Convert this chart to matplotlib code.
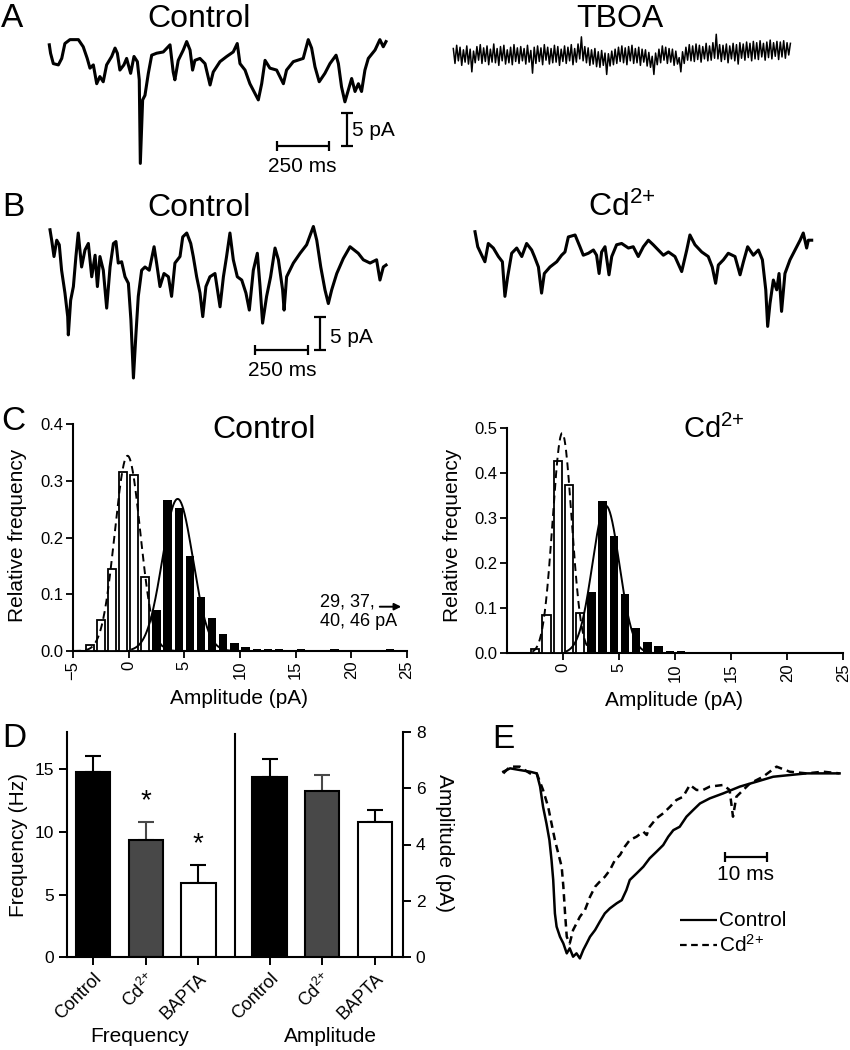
import numpy as np
import matplotlib
matplotlib.use('Agg')
import matplotlib.pyplot as plt

plt.rcParams['font.family'] = ['Liberation Sans', 'DejaVu Sans']
plt.rcParams['mathtext.default'] = 'regular'

CD = 'Cd$^{2{+}}$'

# ---------------- data ----------------
# A: example traces (time in ms, current in pA)
a_ctrl_t = [0, 6, 19, 43, 59, 74, 98, 138, 161, 180, 193, 209, 225, 240, 256, 272, 296, 312, 323, 335,
            354, 367, 386, 402, 418, 427, 432, 443, 454, 470, 486, 509, 541, 573, 588, 596, 612, 636, 652,
            668, 680, 691, 715, 739, 763, 778, 810, 842, 873, 892, 905, 929, 952, 976, 992, 1008, 1024,
            1047, 1079, 1111, 1126, 1158, 1205, 1229, 1245, 1261, 1281, 1308, 1332, 1361, 1372, 1387,
            1403, 1419, 1435, 1451, 1467, 1482, 1498, 1514, 1546, 1569, 1585, 1598]
a_ctrl_i = [0.8, -0.5, -2.1, -2.3, -1.3, 1.0, 1.6, 1.6, 0.5, -1.3, -2.8, -2.3, -5.2, -4.1, -4.9, -2.3,
            -1.0, 0.3, -0.5, -3.1, -2.3, -1.3, -3.6, -1.0, -1.8, -4.6, -17.5, -7.7, -7.0, -3.6, -0.8, -0.5,
            -0.3, 0.8, -3.4, -4.6, -1.6, 0.0, 1.3, 0.0, -3.1, -1.6, -1.3, -2.1, -5.4, -3.4, -1.8, -1.0,
            -0.3, 1.0, -2.1, -3.1, -5.2, -6.7, -7.7, -5.2, -1.6, -2.8, -3.1, -5.2, -3.1, -1.8, -1.3, 1.6,
            0.3, -2.6, -4.9, -3.6, -2.1, -0.8, -2.1, -5.7, -8.0, -6.2, -4.4, -6.4, -5.2, -6.4, -3.1, -1.3,
            0.0, 1.6, 0.5, 1.3]

a_tboa_dt = 8
a_tboa_i = [1.0, -1.3, 1.5, -0.9, 1.2, -1.6, 0.8, -1.1, 1.4, -1.4, 0.9, -2.6, 0.6, -1.2, 1.3, -0.8, 1.6, -1.3, 1.1, -1.0,
            1.4, -1.5, 0.9, -1.1, 1.7, -1.2, 1.0, -1.6, 1.3, -0.9, 1.5, -1.4, 0.8, -1.2, 1.2, -1.5, 1.6, -1.0, 1.1, -1.3,
            1.3, -0.9, 1.0, -1.4, 1.5, -1.1, 0.7, -2.8, 1.2, -1.3, 1.4, -1.0, 1.1, -1.5, 1.6, -0.8, 1.2, -1.4, 1.0, -1.2,
            1.5, -1.1, 1.3, -1.6, 0.9, -1.0, 1.4, -1.3, 1.2, -0.9, 1.6, -1.5, 1.0, -1.1, 1.7, -0.6, 2.8, -0.9, 1.3, -1.2,
            1.1, -1.6, 0.8, -1.4, 1.0, -1.8, 0.5, -1.9, 0.7, -1.6, 0.3, -3.0, 0.2, -1.7, 0.6, -1.5, 0.9, -1.3, 1.2, -1.0,
            1.4, -1.2, 1.1, -1.5, 1.3, -0.9, 1.5, -1.3, 1.0, -1.2, 1.2, -1.6, 0.9, -1.1, 0.8, -1.7, 0.4, -1.9, -0.2, -3.0,
            0.3, -1.5, 0.9, -1.2, 1.4, -0.8, 1.2, -1.3, 1.0, -1.1, 0.9, -1.6, 0.6, -1.4, -0.4, -2.6, 0.5, -1.3, 1.2, -0.8,
            1.6, -0.9, 1.4, -1.0, 1.7, -0.7, 1.5, -1.1, 1.3, -0.6, 1.8, -0.9, 1.4, -0.8, 1.9, -0.5, 3.2, -0.6, 1.6, -1.0,
            1.5, -0.7, 1.7, -1.2, 1.4, -0.6, 1.8, -0.9, 1.6, -1.4, 1.9, -0.5, 1.7, -0.8, 2.0, -0.4, 1.8, -0.9, 2.1, -0.6,
            1.9, -0.7, 2.2, -0.3, 1.8, -0.8, 2.0, -0.4, 2.3, -0.6, 1.9, -0.2, 2.1, -0.7, 2.0, -0.3, 2.2, -0.5, 1.9, 0.0, 1.8]

# B: example traces
b_ctrl_t = [0, 8, 19, 32, 44, 55, 71, 84, 87, 98, 111, 123, 134, 150, 166, 182, 198, 214, 225, 237, 253,
            269, 285, 301, 313, 324, 340, 356, 372, 384, 396, 408, 419, 435, 451, 471, 494, 506, 522, 541,
            562, 577, 593, 617, 630, 649, 668, 680, 696, 712, 725, 740, 759, 783, 807, 823, 838, 854, 870,
            889, 910, 930, 946, 965, 984, 997, 1009, 1028, 1047, 1068, 1084, 1104, 1111, 1123, 1155, 1187,
            1218, 1250, 1266, 1285, 1305, 1321, 1337, 1361, 1392, 1424, 1463, 1487, 1519, 1550, 1566,
            1582, 1595]
b_ctrl_i = [3.1, 1.5, -1.0, 1.5, 0.8, -3.1, -6.6, -10.2, -13.0, -7.7, -5.6, -1.0, 2.6, -2.6, 0.0, 1.0,
            -4.1, -0.8, -5.6, -1.0, -3.1, -8.9, -2.6, 1.0, 1.3, -2.0, -1.8, -4.1, -5.1, -10.7, -19.6, -12.8,
            -7.1, -3.1, -2.6, -3.1, 0.5, -2.0, -5.6, -3.6, -4.1, -7.1, -2.0, -1.0, 2.0, 2.6, 1.0, -1.0,
            -4.1, -6.6, -10.2, -5.6, -4.1, -3.6, -8.7, -4.1, -1.0, 2.6, -1.5, -4.1, -4.6, -6.6, -9.2, -3.1,
            -0.5, -5.6, -11.2, -7.1, -4.1, 0.3, -1.5, -6.1, -9.2, -4.1, -2.0, -0.5, 0.8, 3.6, 1.5, -2.6,
            -6.1, -8.2, -6.1, -3.6, -1.3, 0.5, -0.5, -1.5, -2.0, -1.5, -4.6, -2.6, -2.3]

b_cd_t = [0, 13, 32, 47, 63, 87, 111, 130, 142, 155, 174, 198, 222, 245, 269, 282, 301, 316, 329, 356,
          388, 411, 427, 443, 475, 498, 514, 538, 562, 577, 589, 601, 617, 636, 649, 672, 696, 728, 751,
          775, 799, 823, 846, 870, 894, 918, 949, 981, 1005, 1020, 1044, 1076, 1107, 1126, 1142, 1155,
          1179, 1202, 1234, 1258, 1274, 1294, 1321, 1345, 1364, 1380, 1389, 1400, 1416, 1432, 1443, 1455,
          1471, 1495, 1519, 1543, 1558, 1574, 1582, 1598]
b_cd_i = [2.8, 0.5, -0.8, -1.8, 1.0, 0.3, -1.0, -1.8, -7.1, -4.1, -0.5, 0.3, -1.0, 1.0, 0.0, -1.0, -2.6,
          -6.6, -3.6, -2.6, -1.8, -0.8, -0.3, 2.0, 2.3, 0.5, -0.8, -0.5, 0.0, -0.8, -3.6, -0.3, 0.5, -3.8,
          -1.0, 0.8, 1.0, 0.3, 0.5, -1.0, 0.5, 1.5, 0.8, 0.0, -0.8, -0.3, -1.0, -3.3, 0.0, 2.3, 0.8, -0.3,
          -1.0, -2.6, -5.1, -2.3, -1.5, -0.5, -1.0, -3.8, -1.8, 0.5, -0.8, 0.0, -1.5, -6.1, -11.7, -8.2,
          -4.6, -6.1, -3.6, -9.4, -3.6, -1.5, 0.0, 1.5, 2.6, 0.3, 1.5, 1.5]

# C: amplitude histograms (bin centres in pA, relative frequency)
ctrl_noise_bins = [-3.5, -2.5, -1.5, -0.5, 0.5, 1.5]
ctrl_noise_freq = [0.010, 0.055, 0.145, 0.315, 0.310, 0.130]
ctrl_event_bins = [2.5, 3.5, 4.5, 5.5, 6.5, 7.5, 8.5, 9.5, 10.5, 11.5, 12.5, 13.5, 15.5, 18.5, 23.5]
ctrl_event_freq = [0.072, 0.266, 0.252, 0.167, 0.096, 0.059, 0.030, 0.014, 0.007, 0.003, 0.003, 0.003,
                   0.003, 0.003, 0.003]
cd_noise_bins = [-2.5, -1.5, -0.5, 0.5, 1.5]
cd_noise_freq = [0.010, 0.085, 0.427, 0.373, 0.090]
cd_event_bins = [2.5, 3.5, 4.5, 5.5, 6.5, 7.5, 8.5, 9.5, 10.5]
cd_event_freq = [0.135, 0.338, 0.259, 0.131, 0.056, 0.025, 0.016, 0.006, 0.006]
# gaussian fits: amplitude, mean, sd
ctrl_noise_fit = [0.344, -0.1, 1.15]
ctrl_event_fit = [0.268, 4.4, 1.37]
cd_noise_fit = [0.488, -0.1, 0.85]
cd_event_fit = [0.327, 3.8, 1.20]

# D: summary
conditions = ['Control', CD, 'BAPTA']
freq_mean = [14.8, 9.35, 5.9]
freq_sem = [1.3, 1.45, 1.5]
amp_mean = [6.4, 5.9, 4.8]
amp_sem = [0.63, 0.55, 0.42]
bar_colors = ['black', '#484848', 'white']
err_colors = ['black', '#484848', 'black']

# E: normalised average events (time ms, normalised current)
e_ctrl_t = [0, 1.6, 3.9, 6.3, 7.9, 8.7, 9.4, 10.2, 10.9, 11.4, 11.8, 12.2, 12.6, 13.4, 14.2, 15.0, 15.7,
            16.5, 17.3, 18.1, 18.9, 19.7, 20.5, 21.7, 22.8, 24.0, 25.2, 26.8, 28.0, 29.1, 29.9, 31.5,
            33.1, 34.6, 36.2, 37.8, 39.0, 40.2, 41.7, 43.3, 44.9, 46.5, 48.8, 52.0, 55.9, 59.8, 63.8,
            67.7, 71.7, 75.6, 79.5]
e_ctrl_i = [0.0, 0.018, 0.009, 0.0, -0.009, -0.080, -0.188, -0.277, -0.366, -0.473, -0.580, -0.759,
            -0.830, -0.884, -0.920, -0.973, -0.946, -0.991, -0.973, -1.0, -0.955, -0.920, -0.884, -0.848,
            -0.804, -0.759, -0.732, -0.705, -0.688, -0.634, -0.580, -0.545, -0.509, -0.464, -0.429,
            -0.393, -0.348, -0.313, -0.295, -0.241, -0.205, -0.170, -0.143, -0.116, -0.080, -0.054,
            -0.027, -0.018, -0.009, -0.009, -0.009]
e_cd_t = [0, 1.6, 3.9, 6.3, 7.9, 9.4, 10.6, 11.4, 12.2, 13.0, 13.8, 14.2, 14.6, 15.0, 15.7, 16.5, 17.3,
          18.1, 19.3, 20.5, 21.7, 22.8, 24.0, 25.2, 26.4, 27.6, 28.7, 29.9, 31.5, 33.1, 33.9, 34.6, 36.2,
          37.8, 39.4, 40.9, 42.5, 44.1, 45.7, 47.2, 48.8, 52.0, 53.5, 54.3, 55.1, 58.3, 61.4, 64.6, 67.7,
          71.7, 75.6, 79.5]
e_cd_i = [-0.009, 0.027, 0.027, -0.009, -0.009, -0.098, -0.188, -0.277, -0.366, -0.438, -0.509, -0.616,
          -0.759, -0.884, -0.920, -0.848, -0.813, -0.777, -0.741, -0.670, -0.616, -0.589, -0.563, -0.527,
          -0.473, -0.446, -0.402, -0.366, -0.348, -0.321, -0.339, -0.295, -0.250, -0.223, -0.188,
          -0.152, -0.134, -0.071, -0.098, -0.098, -0.080, -0.071, -0.098, -0.241, -0.134, -0.063,
          -0.027, 0.027, 0.0, -0.009, 0.0, -0.009]

# ---------------- figure ----------------
W, H = 850, 1050
fig = plt.figure(figsize=(W / 100, H / 100), dpi=100)


def add_ax(left, top, right, bottom):
    return fig.add_axes([left / W, 1 - bottom / H, (right - left) / W, (bottom - top) / H])


def trace_ax(x0, y0, left, top, right, bottom, sx, sy):
    # (x0, y0) = pixel of data origin, sx/sy = pixels per data unit
    ax = add_ax(left, top, right, bottom)
    ax.set_xlim((left - x0) / sx, (right - x0) / sx)
    ax.set_ylim(-(bottom - y0) / sy, (y0 - top) / sy)
    ax.axis('off')
    return ax


# overlay in pixel coordinates for labels, scale bars, panel letters
ov = fig.add_axes([0, 0, 1, 1])
ov.set_xlim(0, W)
ov.set_ylim(H, 0)
ov.axis('off')
ov.set_zorder(10)

tr = dict(color='black', lw=2.2, solid_joinstyle='round')

# ---- A ----
ax = trace_ax(49.3, 50, 40, 25, 400, 175, 0.2107, 6.48)
ax.plot(a_ctrl_t, a_ctrl_i, **tr)
ax = trace_ax(453.3, 55, 440, 25, 800, 175, 0.2107, 6.48)
ax.plot(np.arange(len(a_tboa_i)) * a_tboa_dt, a_tboa_i, color='black', lw=1.1)

# ---- B ----
ax = trace_ax(50, 250, 40, 220, 400, 395, 0.2107, 6.53)
ax.plot(b_ctrl_t, b_ctrl_i, **tr)
ax = trace_ax(475, 250, 465, 220, 825, 395, 0.2107, 6.53)
ax.plot(b_cd_t, b_cd_i, **tr)


def scale_bars(hx0, hx1, hy, vx, vy0, vy1, tlabel_xy, vlabel_xy):
    kw = dict(color='black', lw=1.6, solid_capstyle='butt')
    ov.plot([hx0, hx1], [hy, hy], **kw)
    ov.plot([hx0, hx0], [hy - 5, hy + 5], **kw)
    ov.plot([hx1, hx1], [hy - 5, hy + 5], **kw)
    ov.plot([vx, vx], [vy0, vy1], **kw)
    ov.plot([vx - 6, vx + 6], [vy0, vy0], **kw)
    ov.plot([vx - 6, vx + 6], [vy1, vy1], **kw)
    ov.text(*tlabel_xy, '250 ms', fontsize=15, ha='center', va='center')
    ov.text(*vlabel_xy, '5 pA', fontsize=15, ha='left', va='center')


scale_bars(276.7, 329.3, 145.7, 346.7, 113.3, 145.7, (302, 166.7), (352, 131))
scale_bars(255, 308.3, 350, 320, 317.3, 350, (282, 370), (330, 337.5))


# ---- C ----
def gauss(x, p):
    return p[0] * np.exp(-(x - p[1]) ** 2 / (2 * p[2] ** 2))


def histo(ax, nb, nf, eb, ef, nfit, efit, ymax, yticks, xticks):
    ax.bar(eb, ef, width=0.75, color='black', zorder=2)
    ax.bar(nb, nf, width=0.72, facecolor='white', edgecolor='black', lw=1.3, zorder=3)
    x = np.linspace(-5, 25, 800)
    ax.plot(x, gauss(x, nfit), color='black', lw=1.4, ls=(0, (4, 2.5)), zorder=4)
    xs = np.linspace(0.3, 25, 800)
    ax.plot(xs, gauss(xs, efit), color='black', lw=1.4, zorder=4)
    ax.set_xlim(-5, 25)
    ax.set_ylim(0, ymax)
    ax.set_xticks(xticks)
    ax.set_yticks(yticks)
    ax.set_yticklabels([f'{v:.1f}' for v in yticks])
    ax.tick_params(axis='x', labelrotation=90)
    ax.tick_params(direction='out', length=5, width=1.3, labelsize=12, pad=2)
    for s in ['top', 'right']:
        ax.spines[s].set_visible(False)
    for s in ['left', 'bottom']:
        ax.spines[s].set_linewidth(1.5)


ax = add_ax(73, 424, 407, 651)
histo(ax, ctrl_noise_bins, ctrl_noise_freq, ctrl_event_bins, ctrl_event_freq,
      ctrl_noise_fit, ctrl_event_fit, 0.4, [0, 0.1, 0.2, 0.3, 0.4], [-5, 0, 5, 10, 15, 20, 25])
ax = add_ax(507.3, 427.7, 843.3, 653.3)
histo(ax, cd_noise_bins, cd_noise_freq, cd_event_bins, cd_event_freq,
      cd_noise_fit, cd_event_fit, 0.5, [0, 0.1, 0.2, 0.3, 0.4, 0.5], [0, 5, 10, 15, 20, 25])

ov.text(239, 698, 'Amplitude (pA)', fontsize=15, ha='center', va='center')
ov.text(674, 700, 'Amplitude (pA)', fontsize=15, ha='center', va='center')
ov.text(18, 535, 'Relative frequency', fontsize=15, ha='center', va='center', rotation=90)
ov.text(453, 535, 'Relative frequency', fontsize=15, ha='center', va='center', rotation=90)
ov.text(320, 602, '29, 37,', fontsize=13, ha='left', va='center')
ov.text(320, 621, '40, 46 pA', fontsize=13, ha='left', va='center')
ov.annotate('', xy=(404, 606.7), xytext=(377, 606.7),
            arrowprops=dict(arrowstyle='-|>', color='black', lw=1.4, mutation_scale=10))

# ---- D ----
ax = add_ax(66.7, 731.7, 403.3, 957.3)
ax2 = ax.twinx()
xf = np.array([0, 1, 2])
xa = xf + 3.35
ax.bar(xf, freq_mean, width=0.65, color=bar_colors, edgecolor='black', lw=1.5, zorder=2)
ax2.bar(xa, amp_mean, width=0.65, color=bar_colors, edgecolor='black', lw=1.5, zorder=2)
for i in range(3):
    ax.errorbar(xf[i], freq_mean[i], yerr=[[0], [freq_sem[i]]], fmt='none', ecolor=err_colors[i],
                elinewidth=1.5, capsize=6, capthick=1.5, zorder=1)
    ax2.errorbar(xa[i], amp_mean[i], yerr=[[0], [amp_sem[i]]], fmt='none', ecolor=err_colors[i],
                 elinewidth=1.5, capsize=6, capthick=1.5, zorder=1)
for i in [1, 2]:
    ax.text(xf[i], freq_mean[i] + freq_sem[i] + 0.6, '*', fontsize=20, ha='center', va='bottom')
ax.plot([2.69, 2.69], [0, 17.8], color='black', lw=1.5)
ax.set_xlim(-0.5, 5.89)
ax.set_ylim(0, 18)
ax2.set_ylim(0, 8)
ax.set_yticks([0, 5, 10, 15])
ax2.set_yticks([0, 2, 4, 6, 8])
ax.set_xticks(list(xf) + list(xa))
ax.set_xticklabels(conditions * 2, rotation=45, ha='right', rotation_mode='anchor')
ax.tick_params(direction='out', length=6, width=1.4, labelsize=12.5, pad=3)
ax2.tick_params(direction='out', length=6, width=1.4, labelsize=12.5, pad=3)
ax.tick_params(axis='x', labelsize=13)
for a in (ax, ax2):
    a.spines['top'].set_visible(False)
    for s in a.spines.values():
        s.set_linewidth(1.5)
ax.spines['right'].set_visible(False)
ax2.spines['left'].set_visible(False)
ax2.spines['bottom'].set_visible(False)
ov.text(18.3, 845, 'Frequency (Hz)', fontsize=15, ha='center', va='center', rotation=90)
ov.text(445, 843, 'Amplitude (pA)', fontsize=15, ha='center', va='center', rotation=270)
ov.text(140, 1036.7, 'Frequency', fontsize=15, ha='center', va='center')
ov.text(330, 1036.7, 'Amplitude', fontsize=15, ha='center', va='center')

# ---- E ----
ax = trace_ax(503.3, 771.7, 500, 740, 845, 975, 4.23, 186.7)
ax.plot(e_ctrl_t, e_ctrl_i, color='black', lw=1.8)
ax.plot(e_cd_t, e_cd_i, color='black', lw=1.8, ls=(0, (3, 2)))
kw = dict(color='black', lw=1.6, solid_capstyle='butt')
ov.plot([725, 767.3], [856.7, 856.7], **kw)
ov.plot([725, 725], [851.7, 861.7], **kw)
ov.plot([767.3, 767.3], [851.7, 861.7], **kw)
ov.text(746, 875, '10 ms', fontsize=15, ha='center', va='center')
ov.plot([680, 716.7], [920, 920], **kw)
ov.plot([680, 716.7], [945, 945], color='black', lw=1.6, ls=(0, (3, 2)))
ov.text(719, 920, 'Control', fontsize=15, ha='left', va='center')
ov.text(719, 945, CD, fontsize=15, ha='left', va='center')

# ---- titles and panel letters ----
tkw = dict(fontsize=23, ha='center', va='baseline')
ov.text(199, 26.7, 'Control', **tkw)
ov.text(620, 26.7, 'TBOA', **tkw)
ov.text(199, 216, 'Control', **tkw)
ov.text(622, 216, CD, **tkw)
ov.text(264, 438, 'Control', **tkw)
ov.text(714, 438, CD, fontsize=21, ha='center', va='baseline')
lkw = dict(fontsize=24, ha='left', va='baseline')
ov.text(1, 26.7, 'A', **lkw)
ov.text(2, 216, 'B', **lkw)
ov.text(1, 430, 'C', **lkw)
ov.text(2, 746.7, 'D', **lkw)
ov.text(492, 748, 'E', **lkw)

fig.savefig('out.png', dpi=100)
